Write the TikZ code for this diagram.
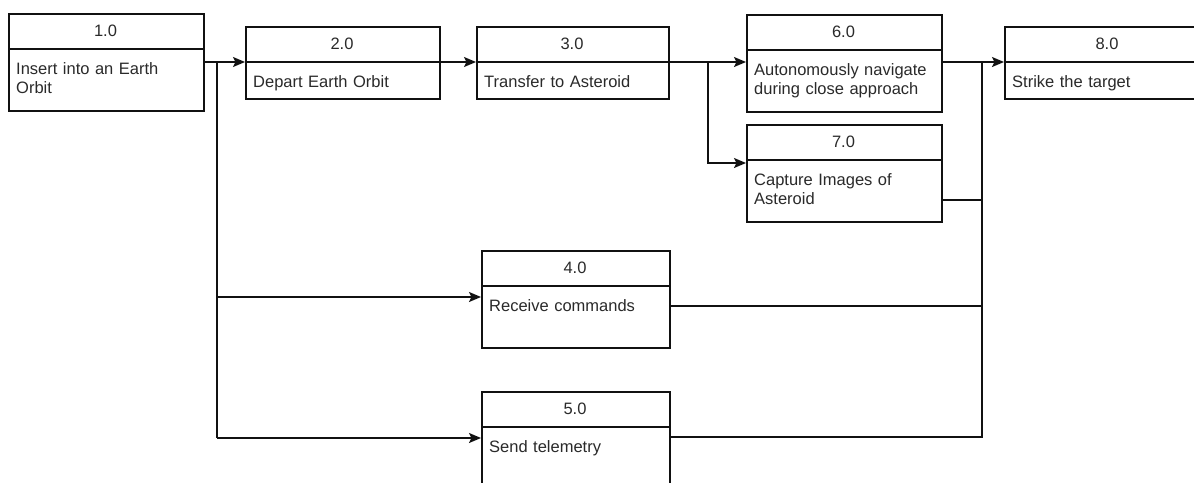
\documentclass[tikz,border=0pt]{standalone}
\usepackage{fontspec}
\setmainfont{Liberation Sans}
\usetikzlibrary{arrows.meta}
\definecolor{ink}{HTML}{111111}
\definecolor{txt}{HTML}{2A2A2A}
\tikzset{
  taskframe/.style={draw=ink, line width=1.5pt, inner sep=0pt, rectangle},
  tasknum/.style={text=txt, inner sep=0pt, font=\fontsize{16.5}{18.5}\selectfont},
  tasktext/.style={text=txt, inner sep=0pt, align=left, anchor=base west,
    font=\fontsize{16.5}{18.5}\selectfont},
  flow/.style={draw=ink, line width=1.5pt},
  flowarrow/.style={flow, -{Stealth[length=12pt, width=10pt, inset=2.5pt]}},
}
% \taskbox{name}{left}{top}{right}{divider}{bottom}{number}{description}
\newcommand\taskbox[8]{%
  \node[taskframe, anchor=north west, minimum width={#4-#2}, minimum height={#6-#3}]
    (#1) at (#2,#3) {};
  \coordinate (#1-dw) at (#2,#5);
  \coordinate (#1-de) at (#4,#5);
  \draw[flow] (#1-dw) -- (#1-de);
  \node[tasknum] (#1-num) at ({(#2+#4)/2},{(#3+#5)/2}) {#7};
  \node[tasktext, text width={#4-#2-16}] (#1-txt) at (#2+8,#5+25.5) {#8};
}
\begin{document}
\begin{tikzpicture}[x=1pt, y=-1pt]
\useasboundingbox (0,0) rectangle (1194,482);
\clip (0,0) rectangle (1194,482);
\fill[white] (0,0) rectangle (1194,482);

% task boxes
\taskbox{b1}{8}{13}{203}{49}{110}{1.0}{Insert into an Earth\\Orbit}
\taskbox{b2}{245}{26}{439}{62}{98}{2.0}{Depart Earth Orbit}
\taskbox{b3}{476}{26}{668}{62}{98}{3.0}{Transfer to Asteroid}
\taskbox{b6}{746}{14}{941}{50}{111}{6.0}{Autonomously navigate\\during close approach}
\taskbox{b7}{746}{124}{941}{160}{221}{7.0}{Capture Images of\\Asteroid}
\taskbox{b8}{1004}{26}{1210}{62}{98}{8.0}{Strike the target}
\taskbox{b4}{481}{250}{669}{286}{347}{4.0}{Receive commands}
\taskbox{b5}{481}{391}{669}{427}{500}{5.0}{Send telemetry}

% junction points of the flow lines
\coordinate (j1) at (217,62);
\coordinate (j2) at (708,62);
\coordinate (j3) at (982,62);
\coordinate (b4-in) at (481,297);
\coordinate (b5-in) at (481,438);
\coordinate (b7-in) at (746,163);
\coordinate (b7-out) at (941,200);
\coordinate (b4-out) at (669,306);
\coordinate (b5-out) at (669,437);

% sequence 1 -> 2 -> 3 -> 6 -> 8
\draw[flowarrow] (b1.east |- b2-dw) -- (b2-dw);
\draw[flowarrow] (b2-de) -- (b3-dw);
\draw[flowarrow] (b3-de) -- (b6.west |- b3-de);
\draw[flowarrow] (b6.east |- b8-dw) -- (b8-dw);

% branches from 1.0 to 4.0 and 5.0
\draw[flow] (j1) -- (j1 |- b5-in);
\draw[flowarrow] (j1 |- b4-in) -- (b4-in);
\draw[flowarrow] (j1 |- b5-in) -- (b5-in);

% branch from 3.0 to 7.0
\draw[flowarrow] (j2) |- (b7-in);

% merging into 8.0
\draw[flow] (b7-out) -- (j3 |- b7-out);
\draw[flow] (b4-out) -- (j3 |- b4-out);
\draw[flow] (b5-out) -| (j3);
\end{tikzpicture}
\end{document}
